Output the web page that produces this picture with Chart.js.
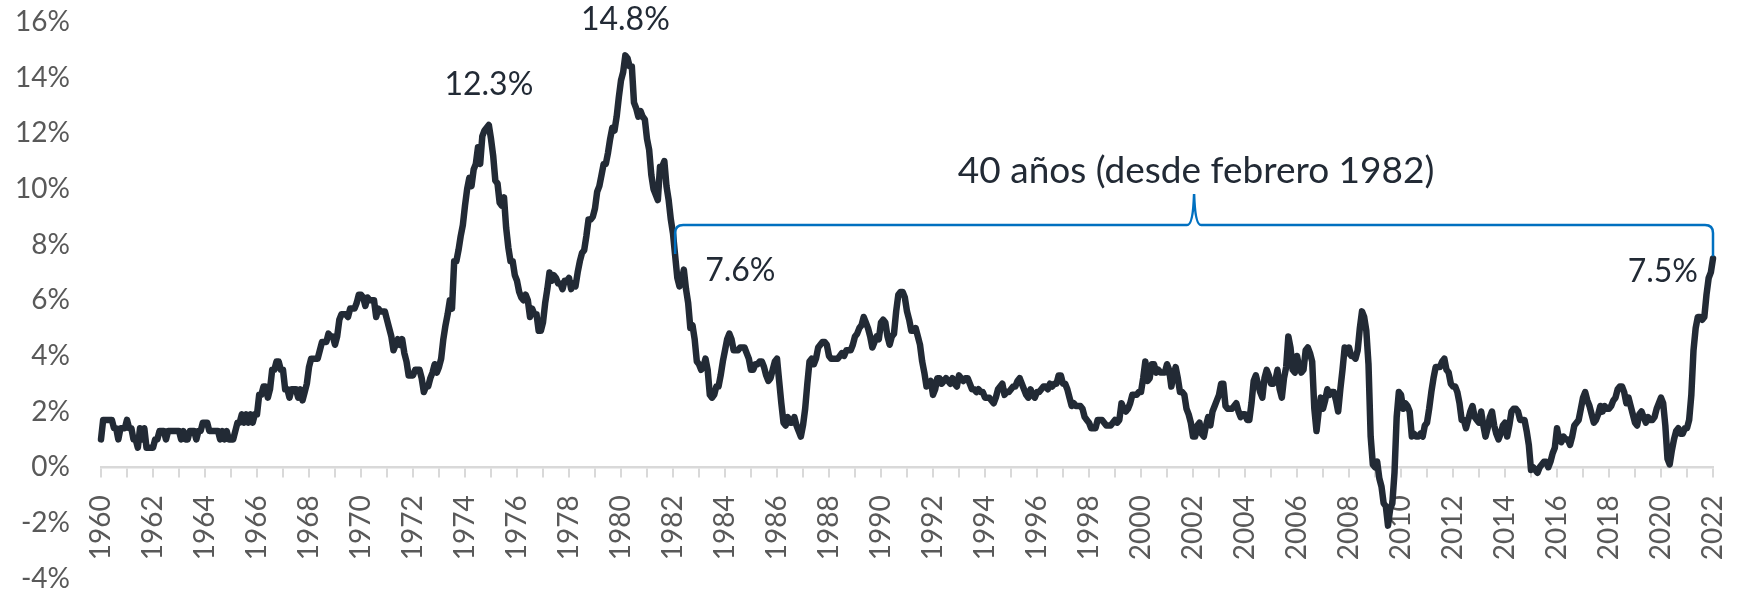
<!DOCTYPE html>
<html>
<head>
<meta charset="utf-8">
<script src="https://cdn.jsdelivr.net/npm/chart.js@4/dist/chart.umd.min.js"></script>
<style>
  html, body { margin: 0; padding: 0; background: #fff; }
</style>
</head>
<body>
<canvas id="cpiChart" width="1741" height="593"></canvas>
<script>
// US CPI, year-over-year % change, monthly (Jan 1960 - Jan 2022)
const cpi1960s = [
  1.0, 1.7, 1.7, 1.7, 1.7, 1.7, 1.4, 1.4, 1.0, 1.4, 1.4, 1.4,
  1.7, 1.4, 1.4, 1.0, 1.0, 0.7, 1.4, 1.0, 1.4, 0.7, 0.7, 0.7,
  0.7, 1.0, 1.0, 1.3, 1.3, 1.3, 1.0, 1.3, 1.3, 1.3, 1.3, 1.3,
  1.3, 1.0, 1.3, 1.0, 1.0, 1.3, 1.3, 1.3, 1.0, 1.3, 1.3, 1.6,
  1.6, 1.6, 1.3, 1.3, 1.3, 1.3, 1.3, 1.0, 1.3, 1.0, 1.3, 1.0,
  1.0, 1.0, 1.3, 1.6, 1.6, 1.9, 1.6, 1.9, 1.6, 1.9, 1.6, 1.9,
  1.9, 2.6, 2.6, 2.9, 2.9, 2.5, 2.8, 3.5, 3.5, 3.8, 3.8, 3.5,
  3.5, 2.8, 2.8, 2.5, 2.8, 2.8, 2.8, 2.5, 2.8, 2.4, 2.7, 3.0,
  3.6, 3.9, 3.9, 3.9, 3.9, 4.2, 4.5, 4.5, 4.5, 4.8, 4.7, 4.7,
  4.4, 4.7, 5.3, 5.5, 5.5, 5.5, 5.4, 5.7, 5.7, 5.7, 5.9, 6.2
];
const cpi1970s = [
  6.2, 6.1, 5.8, 6.1, 6.0, 6.0, 6.0, 5.4, 5.7, 5.6, 5.6, 5.6,
  5.3, 5.0, 4.7, 4.2, 4.4, 4.6, 4.4, 4.6, 4.1, 3.8, 3.3, 3.3,
  3.3, 3.5, 3.5, 3.5, 3.2, 2.7, 2.9, 2.9, 3.2, 3.4, 3.7, 3.4,
  3.6, 3.9, 4.6, 5.1, 5.5, 6.0, 5.7, 7.4, 7.4, 7.8, 8.3, 8.7,
  9.4, 10.0, 10.4, 10.1, 10.7, 10.9, 11.5, 10.9, 11.9, 12.1, 12.2, 12.3,
  11.8, 11.2, 10.3, 10.2, 9.5, 9.4, 9.7, 8.6, 7.9, 7.4, 7.4, 6.9,
  6.7, 6.3, 6.1, 6.0, 6.2, 6.0, 5.4, 5.7, 5.5, 5.5, 4.9, 4.9,
  5.2, 5.9, 6.4, 7.0, 6.7, 6.9, 6.8, 6.6, 6.6, 6.4, 6.7, 6.7,
  6.8, 6.4, 6.6, 6.5, 7.0, 7.4, 7.7, 7.8, 8.3, 8.9, 8.9, 9.0,
  9.3, 9.9, 10.1, 10.5, 10.9, 10.9, 11.3, 11.8, 12.2, 12.1, 12.6, 13.3
];
const cpi1980s = [
  13.9, 14.2, 14.8, 14.7, 14.4, 14.4, 13.1, 12.9, 12.6, 12.8, 12.6, 12.5,
  11.8, 11.4, 10.5, 10.0, 9.8, 9.6, 10.8, 10.8, 11.0, 10.1, 9.6, 8.9,
  8.4, 7.6, 6.8, 6.5, 6.7, 7.1, 6.4, 5.9, 5.0, 5.1, 4.6, 3.8,
  3.7, 3.5, 3.6, 3.9, 3.5, 2.6, 2.5, 2.6, 2.9, 2.9, 3.3, 3.8,
  4.2, 4.6, 4.8, 4.6, 4.2, 4.2, 4.2, 4.3, 4.3, 4.3, 4.1, 3.9,
  3.5, 3.5, 3.7, 3.7, 3.8, 3.8, 3.6, 3.3, 3.1, 3.2, 3.5, 3.8,
  3.9, 3.1, 2.3, 1.6, 1.5, 1.8, 1.6, 1.6, 1.8, 1.5, 1.3, 1.1,
  1.5, 2.1, 3.0, 3.8, 3.9, 3.7, 3.9, 4.3, 4.4, 4.5, 4.5, 4.4,
  4.0, 3.9, 3.9, 3.9, 3.9, 4.0, 4.1, 4.0, 4.2, 4.2, 4.2, 4.4,
  4.7, 4.8, 5.0, 5.1, 5.4, 5.2, 5.0, 4.7, 4.3, 4.5, 4.7, 4.6
];
const cpi1990s = [
  5.2, 5.3, 5.2, 4.7, 4.4, 4.7, 4.8, 5.6, 6.2, 6.3, 6.3, 6.1,
  5.6, 5.3, 4.9, 4.9, 5.0, 4.7, 4.4, 3.8, 3.4, 2.9, 3.0, 3.1,
  2.6, 2.8, 3.2, 3.2, 3.0, 3.1, 3.2, 3.1, 3.0, 3.2, 3.0, 2.9,
  3.3, 3.2, 3.1, 3.2, 3.2, 3.0, 2.8, 2.8, 2.7, 2.8, 2.7, 2.7,
  2.5, 2.5, 2.5, 2.4, 2.3, 2.5, 2.8, 2.9, 3.0, 2.6, 2.7, 2.7,
  2.8, 2.9, 2.9, 3.1, 3.2, 3.0, 2.8, 2.6, 2.5, 2.8, 2.6, 2.5,
  2.7, 2.7, 2.8, 2.9, 2.9, 2.8, 3.0, 2.9, 3.0, 3.0, 3.3, 3.3,
  3.0, 3.0, 2.8, 2.5, 2.2, 2.3, 2.2, 2.2, 2.2, 2.1, 1.8, 1.7,
  1.6, 1.4, 1.4, 1.4, 1.7, 1.7, 1.7, 1.6, 1.5, 1.5, 1.5, 1.6,
  1.7, 1.6, 1.7, 2.3, 2.1, 2.0, 2.1, 2.3, 2.6, 2.6, 2.6, 2.7
];
const cpi2000s = [
  2.7, 3.2, 3.8, 3.1, 3.2, 3.7, 3.7, 3.4, 3.5, 3.4, 3.4, 3.4,
  3.7, 3.5, 2.9, 3.3, 3.6, 3.2, 2.7, 2.7, 2.6, 2.1, 1.9, 1.6,
  1.1, 1.1, 1.5, 1.6, 1.2, 1.1, 1.5, 1.8, 1.5, 2.0, 2.2, 2.4,
  2.6, 3.0, 3.0, 2.2, 2.1, 2.1, 2.1, 2.2, 2.3, 2.0, 1.8, 1.9,
  1.9, 1.7, 1.7, 2.3, 3.1, 3.3, 3.0, 2.7, 2.5, 3.2, 3.5, 3.3,
  3.0, 3.0, 3.1, 3.5, 2.8, 2.5, 3.2, 3.6, 4.7, 4.3, 3.5, 3.4,
  4.0, 3.6, 3.4, 3.5, 4.2, 4.3, 4.1, 3.8, 2.1, 1.3, 2.0, 2.5,
  2.1, 2.4, 2.8, 2.6, 2.7, 2.7, 2.4, 2.0, 2.8, 3.5, 4.3, 4.1,
  4.3, 4.0, 4.0, 3.9, 4.2, 5.0, 5.6, 5.4, 4.9, 3.7, 1.1, 0.1,
  0.0, 0.2, -0.4, -0.7, -1.3, -1.4, -2.1, -1.5, -1.3, -0.2, 1.8, 2.7
];
const cpi2010s = [
  2.6, 2.1, 2.3, 2.2, 2.0, 1.1, 1.2, 1.1, 1.1, 1.2, 1.1, 1.5,
  1.6, 2.1, 2.7, 3.2, 3.6, 3.6, 3.6, 3.8, 3.9, 3.5, 3.4, 3.0,
  2.9, 2.9, 2.7, 2.3, 1.7, 1.7, 1.4, 1.7, 2.0, 2.2, 1.8, 1.7,
  1.6, 2.0, 1.5, 1.1, 1.4, 1.8, 2.0, 1.5, 1.2, 1.0, 1.2, 1.5,
  1.6, 1.1, 1.5, 2.0, 2.1, 2.1, 2.0, 1.7, 1.7, 1.7, 1.3, 0.8,
  -0.1, 0.0, -0.1, -0.2, 0.0, 0.1, 0.2, 0.2, 0.0, 0.2, 0.5, 0.7,
  1.4, 1.0, 0.9, 1.1, 1.0, 1.0, 0.8, 1.1, 1.5, 1.6, 1.7, 2.1,
  2.5, 2.7, 2.4, 2.2, 1.9, 1.6, 1.7, 1.9, 2.2, 2.0, 2.2, 2.1,
  2.1, 2.2, 2.4, 2.5, 2.8, 2.9, 2.9, 2.7, 2.3, 2.5, 2.2, 1.9,
  1.6, 1.5, 1.9, 2.0, 1.8, 1.6, 1.8, 1.7, 1.7, 1.8, 2.1, 2.3
];
const cpi2020s = [
  2.5, 2.3, 1.5, 0.3, 0.1, 0.6, 1.0, 1.3, 1.4, 1.2, 1.2, 1.4,
  1.4, 1.7, 2.6, 4.2, 5.0, 5.4, 5.4, 5.3, 5.4, 6.2, 6.8, 7.0,
  7.5
];

const startYear = 1960;
const endYear = 2022;
const yTicks = [-4, -2, 0, 2, 4, 6, 8, 10, 12, 14, 16];

const cpiValues = [].concat(cpi1960s, cpi1970s, cpi1980s, cpi1990s, cpi2000s, cpi2010s, cpi2020s);
const cpiPoints = cpiValues.map((v, i) => ({ x: startYear + i / 12, y: v }));

// labels anchored to data points, offsets in px (text baseline)
const peakLabels = [
  { text: '12.3%', x: 1974 + 11 / 12, y: 12.3, dx: 0, dy: -30, align: 'center' },
  { text: '14.8%', x: 1980 + 2 / 12, y: 14.8, dx: 0, dy: -25, align: 'center' },
  { text: '7.6%', x: 1982 + 1 / 12, y: 7.6, dx: 30, dy: 25, align: 'left' },
  { text: '7.5%', x: 2022, y: 7.5, dx: -15, dy: 23, align: 'right' }
];

const bracket = {
  from: 1982 + 1 / 12, to: 2022,
  fromY: 7.66, toY: 7.58, level: 8.7, peak: 9.82,
  text: '40 años (desde febrero 1982)', textY: 10.2
};

const FONT = 'Lato, "Noto Sans", sans-serif';
const DARK = '#222a35';
const GREY = '#595959';
const BLUE = '#0070c0';

const annotationsPlugin = {
  id: 'annotations',
  afterDatasetsDraw(chart) {
    const ctx = chart.ctx;
    const xs = chart.scales.x;
    const ys = chart.scales.y;
    ctx.save();

    // peak labels
    ctx.fillStyle = DARK;
    ctx.font = '32px ' + FONT;
    ctx.textBaseline = 'alphabetic';
    peakLabels.forEach(l => {
      ctx.textAlign = l.align;
      ctx.fillText(l.text, xs.getPixelForValue(l.x) + l.dx, ys.getPixelForValue(l.y) + l.dy);
    });

    // curly bracket over the last 40 years
    const x1 = xs.getPixelForValue(bracket.from);
    const x2 = xs.getPixelForValue(bracket.to);
    const xm = (x1 + x2) / 2;
    const yH = ys.getPixelForValue(bracket.level);
    const yP = ys.getPixelForValue(bracket.peak);
    const r = 8;
    ctx.strokeStyle = BLUE;
    ctx.lineWidth = 2.5;
    ctx.beginPath();
    ctx.moveTo(x1, ys.getPixelForValue(bracket.fromY));
    ctx.lineTo(x1, yH + r);
    ctx.quadraticCurveTo(x1, yH, x1 + r, yH);
    ctx.lineTo(xm - 7, yH);
    ctx.quadraticCurveTo(xm - 1, yH, xm, yP);
    ctx.quadraticCurveTo(xm + 1, yH, xm + 7, yH);
    ctx.lineTo(x2 - r, yH);
    ctx.quadraticCurveTo(x2, yH, x2, yH + r);
    ctx.lineTo(x2, ys.getPixelForValue(bracket.toY));
    ctx.stroke();

    ctx.fillStyle = DARK;
    ctx.font = '37px ' + FONT;
    ctx.textAlign = 'center';
    ctx.fillText(bracket.text, xm + 2, ys.getPixelForValue(bracket.textY));
    ctx.restore();
  }
};

new Chart(document.getElementById('cpiChart'), {
  type: 'line',
  data: {
    datasets: [{
      data: cpiPoints,
      borderColor: DARK,
      borderWidth: 6.5,
      pointRadius: 0,
      tension: 0,
      clip: false,
      borderJoinStyle: 'round',
      borderCapStyle: 'round'
    }]
  },
  options: {
    responsive: false,
    animation: false,
    layout: { padding: { left: 0, right: 28, top: 22, bottom: 14.5 } },
    plugins: { legend: { display: false }, tooltip: { enabled: false } },
    scales: {
      x: {
        type: 'linear',
        position: { y: 0 },
        min: startYear,
        max: endYear,
        afterFit: scale => {
          scale.paddingLeft = 0;
          scale.paddingRight = 0;
        },
        grid: { drawOnChartArea: false, color: '#d9d9d9', lineWidth: 2, tickLength: 9 },
        border: { color: '#d9d9d9', width: 2.5 },
        ticks: {
          stepSize: 1,
          autoSkip: false,
          minRotation: 90,
          maxRotation: 90,
          padding: 19,
          color: GREY,
          font: { family: FONT, size: 28 },
          callback: v => (v % 2 === 0 ? String(v) : '')
        }
      },
      y: {
        min: yTicks[0],
        max: yTicks[yTicks.length - 1],
        grid: { display: false, drawTicks: false },
        border: { display: false },
        afterFit: scale => {
          scale.width = 101;
          scale.paddingTop = 0;
          scale.paddingBottom = 0;
        },
        afterBuildTicks: scale => { scale.ticks = yTicks.map(v => ({ value: v })); },
        ticks: {
          padding: 31,
          color: GREY,
          font: { family: FONT, size: 28, lineHeight: 1 },
          callback: v => v + '%'
        }
      }
    }
  },
  plugins: [annotationsPlugin]
});
</script>
</body>
</html>
